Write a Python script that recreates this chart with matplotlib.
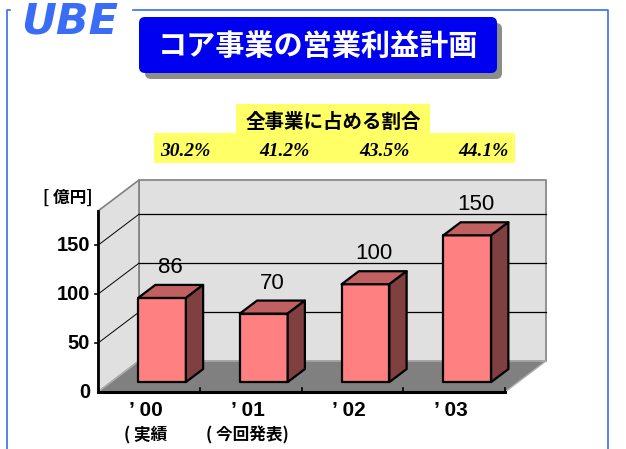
import matplotlib
matplotlib.use('Agg')
import matplotlib.pyplot as plt
import numpy as np
from matplotlib.patches import Polygon, Rectangle, FancyBboxPatch

# datos
years = ["’ 00", "’ 01", "’ 02", "’ 03"]
notes = ["( 実績", "( 今回発表)", "", ""]
profit = [86, 70, 100, 150]
share = [30.2, 41.2, 43.5, 44.1]
yticks = [0, 50, 100, 150]
ymax = 185

plt.rcParams['font.family'] = ['Liberation Sans', 'Noto Sans CJK JP', 'DejaVu Sans']

W, H = 626, 449
fig = plt.figure(figsize=(W / 100, H / 100), dpi=100)

# capa de fondo en pixeles
bg = fig.add_axes([0, 0, 1, 1])
bg.set_xlim(0, W)
bg.set_ylim(H, 0)
bg.axis('off')

# marco azul
bg.plot([7, 7, 608, 608], [H, 10, 10, H], color='#3a6cf5', lw=1.2)
bg.add_patch(Rectangle((11, 0), 120, 36, color='white', zorder=2))
bg.text(70, 21, 'UBE', color='#3a6cf5', fontsize=31, fontweight='bold',
        style='oblique', family='DejaVu Sans', ha='center', va='center', zorder=3)

# titulo
bg.add_patch(FancyBboxPatch((145, 23), 357, 56, boxstyle='round,pad=0,rounding_size=6',
                            fc='#8c8c8c', ec='none'))
bg.add_patch(FancyBboxPatch((139, 17), 358, 56, boxstyle='round,pad=0,rounding_size=6',
                            fc='#0000f0', ec='none'))
bg.text(318, 46, 'コア事業の営業利益計画', color='white', fontsize=21, fontweight='bold',
        family=['Noto Sans CJK JP'], ha='center', va='center')

# cajas amarillas
bg.add_patch(Rectangle((236, 104), 194, 29, fc='#ffff66', ec='none'))
bg.add_patch(Rectangle((154, 133), 361, 30, fc='#ffff66', ec='none'))
bg.text(333, 122, '全事業に占める割合', fontsize=14, fontweight='bold',
        family=['Noto Sans CJK JP'], ha='center', va='center')
for xp, s in zip(np.linspace(185, 484, len(share)), share):
    bg.text(xp, 151, f'{s:.1f}%', fontsize=14, fontweight='bold', style='italic',
            family='Liberation Serif', ha='center', va='center')

# grafico 3D simulado
x0, x1, yb, yt = 98, 505, 392, 211
ax = fig.add_axes([x0 / W, (H - yb) / H, (x1 - x0) / W, (yb - yt) / H])
n = len(profit)
ax.set_xlim(0, n)
ax.set_ylim(0, ymax)
ax.axis('off')
sx = (x1 - x0) / n
sy = (yb - yt) / ymax
DX, DY = 41 / sx, 31 / sy  # profundidad de las paredes

def poly(pts, **kw):
    p = Polygon(pts, closed=True, clip_on=False, **kw)
    ax.add_patch(p)
    return p

wall = '#e0e0e0'
poly([(DX, DY), (n + DX, DY), (n + DX, ymax + DY), (DX, ymax + DY)],
     fc=wall, ec='#808080', lw=1.2)
poly([(0, 0), (0, ymax), (DX, ymax + DY), (DX, DY)], fc=wall, ec='#808080', lw=1.2)
poly([(0, 0), (n, 0), (n + DX, DY), (DX, DY)], fc='#808080', ec='#b0b0b0', lw=1)

for v in yticks[1:]:
    ax.plot([DX, n + DX], [v + DY, v + DY], color='black', lw=0.9, clip_on=False)
    ax.plot([0, DX], [v, v + DY], color='black', lw=0.7, clip_on=False)
    ax.plot([-3 / sx, 0], [v, v], color='black', lw=1.2, clip_on=False)

ax.plot([0, 0], [0, ymax], color='black', lw=2, clip_on=False)
ax.plot([0, n], [0, 0], color='black', lw=2.2, clip_on=False)
for i in range(1, n + 1):
    ax.plot([i, i], [0, 4 / sy], color='black', lw=1.2, clip_on=False)

for v in yticks:
    ax.text(-8 / sx, v, str(v), fontsize=14.5, fontweight='bold',
            ha='right', va='center', clip_on=False)
ax.text(-5 / sx, ymax + 13, '[ 億円]', fontsize=12, fontweight='bold',
        family=['Noto Sans CJK JP'], ha='right', va='center')

# barras
f0, f1 = 0.32, 0.74
bw = 0.47
for i, v in enumerate(profit):
    xl = i + 0.5 - bw / 2
    xr = xl + bw
    ax0, ay0 = f0 * DX, f0 * DY
    ax1, ay1 = f1 * DX, f1 * DY
    poly([(xl + ax0, ay0), (xr + ax0, ay0), (xr + ax0, v + ay0), (xl + ax0, v + ay0)],
         fc='#ff8080', ec='black', lw=1.6, joinstyle='round', zorder=3)
    poly([(xl + ax0, v + ay0), (xr + ax0, v + ay0), (xr + ax1, v + ay1), (xl + ax1, v + ay1)],
         fc='#c06060', ec='black', lw=1.6, joinstyle='round', zorder=3)
    poly([(xr + ax0, ay0), (xr + ax1, ay1), (xr + ax1, v + ay1), (xr + ax0, v + ay0)],
         fc='#804040', ec='black', lw=1.6, joinstyle='round', zorder=3)
    ax.text(i + 0.5 + (f0 + f1) / 2 * DX, v + ay1 + 7 / sy, str(v), fontsize=16,
            ha='center', va='bottom', clip_on=False)

for i, (yr, nt) in enumerate(zip(years, notes)):
    ax.text(i + 0.47, -18 / sy, yr, fontsize=15, fontweight='bold',
            ha='center', va='center', clip_on=False)
    if nt:
        ax.text(i + 0.47, -43 / sy, nt, fontsize=12, fontweight='bold',
                family=['Noto Sans CJK JP'], ha='center', va='center', clip_on=False)

fig.savefig('out.png', dpi=100)
